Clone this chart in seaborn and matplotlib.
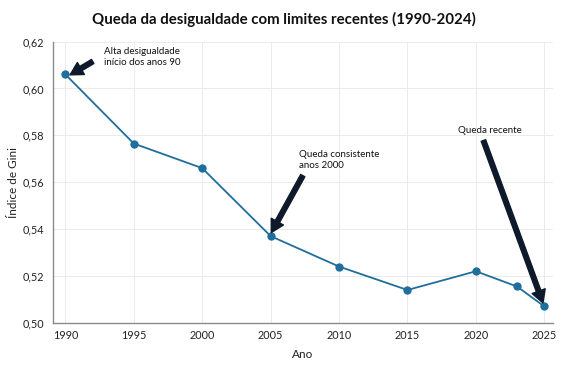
import numpy as np
import pandas as pd
import matplotlib.pyplot as plt
import matplotlib.ticker as mticker
import seaborn as sns

# dados
anos = [1990, 1995, 2000, 2005, 2010, 2015, 2020, 2023, 2025]
gini = [0.606, 0.5765, 0.566, 0.537, 0.524, 0.514, 0.522, 0.5155, 0.507]
xticks = [1990, 1995, 2000, 2005, 2010, 2015, 2020, 2025]
yticks = [0.50, 0.52, 0.54, 0.56, 0.58, 0.60, 0.62]

df = pd.DataFrame({'Ano': anos, 'Gini': gini})

sns.set_style('white')
plt.rcParams['font.family'] = ['Lato', 'DejaVu Sans']

fig = plt.figure(figsize=(5.67, 3.78), dpi=100)
ax = fig.add_axes([0.0935, 0.146, 0.881, 0.744])

azul = '#1f6e9c'
sns.lineplot(data=df, x='Ano', y='Gini', ax=ax, color=azul, lw=1.3,
             marker='o', markersize=6, markeredgewidth=0, zorder=3)

ax.set_xlim(1989.1, 2025.6)
ax.set_ylim(0.50, 0.62)
ax.set_xticks(xticks)
ax.set_yticks(yticks)
ax.yaxis.set_major_formatter(mticker.FuncFormatter(lambda v, p: f'{v:.2f}'.replace('.', ',')))
ax.tick_params(axis='both', labelsize=7.8, colors='#222222', length=3, width=0.8)
ax.tick_params(axis='x', length=0, pad=5)
ax.grid(True, color='#ebebeb', lw=0.7)
ax.set_axisbelow(True)

for s in ['top', 'right']:
    ax.spines[s].set_visible(False)
for s in ['left', 'bottom']:
    ax.spines[s].set_color('#8a8a8a')
    ax.spines[s].set_linewidth(1.0)

ax.set_xlabel('Ano', fontsize=8.5, color='#222222', labelpad=6)
ax.set_ylabel('Índice de Gini', fontsize=8.5, color='#222222')
ax.yaxis.set_label_coords(-0.068, 0.5)
fig.text(0.5, 0.948, 'Queda da desigualdade com limites recentes (1990-2024)',
         fontsize=10.8, fontweight='bold', color='#111111', ha='center', va='center')

seta = dict(facecolor='#0e1a2b', edgecolor='#0e1a2b', width=3.4,
            headwidth=10, headlength=9, shrink=0)

ax.text(1992.8, 0.6133, 'Alta desigualdade\ninício dos anos 90',
        fontsize=7, va='center', ha='left', color='#111111', linespacing=1.3)
ax.annotate('', xy=(1990.35, 0.6058), xytext=(1992.0, 0.6115), arrowprops=seta)

ax.text(2007.1, 0.5693, 'Queda consistente\nanos 2000',
        fontsize=7, va='center', ha='left', color='#111111', linespacing=1.3)
ax.annotate('', xy=(2005.05, 0.5385), xytext=(2007.35, 0.5628), arrowprops=seta)

ax.text(2018.7, 0.5822, 'Queda recente',
        fontsize=7, va='center', ha='left', color='#111111')
ax.annotate('', xy=(2024.9, 0.5085), xytext=(2020.55, 0.5778), arrowprops=seta)

fig.savefig('out.png', dpi=100, facecolor='white')
